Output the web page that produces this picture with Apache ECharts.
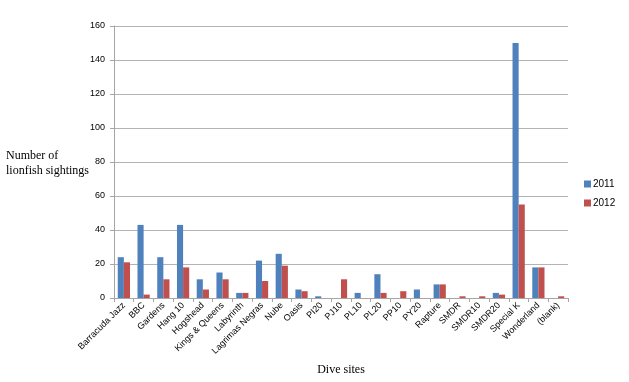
<!DOCTYPE html>
<html><head><meta charset="utf-8">
<script src="https://cdn.jsdelivr.net/npm/echarts@6/dist/echarts.min.js"></script>
<style>html,body{margin:0;padding:0;background:#fff}#c{width:629px;height:382px}</style>
</head><body><div id="c"></div>
<script>
const categories = ["Barracuda Jazz","BBC","Gardens","Hang 10","Hogshead","Kings & Queens","Labyrinth","Lagrimas Negras","Nube","Oasis","PI20","PJ10","PL10","PL20","PP10","PY20","Rapture","SMDR","SMDR10","SMDR20","Special K","Wonderland","(blank)"];
const values2011 = [24,43,24,43,11,15,3,22,26,5,1,0,3,14,0,5,8,0,0,3,150,18,0];
const values2012 = [21,2,11,18,5,11,3,10,19,4,0,11,0,3,4,0,8,1,1,2,55,18,1];
const yTicks = [0,20,40,60,80,100,120,140,160];

const chart = echarts.init(document.getElementById('c'));
chart.setOption({
  animation:false,
  grid:{left:114,right:61,top:26,bottom:84},
  legend:{orient:'vertical',left:579,top:174,itemWidth:7,itemHeight:7,itemGap:9,icon:'rect',
    textStyle:{fontFamily:'Arial, Liberation Sans',fontSize:10,color:'#000',padding:[0,0,0,-3]},data:['2011','2012']},
  xAxis:{type:'category',data:categories,
    name:'Dive sites',nameLocation:'middle',nameGap:66,
    nameTextStyle:{fontFamily:'Liberation Serif, Times New Roman',fontSize:12,color:'#000'},
    axisLine:{lineStyle:{color:'#a6a6a6'}},
    axisTick:{show:true,alignWithLabel:false,length:4,lineStyle:{color:'#a6a6a6'}},
    axisLabel:{rotate:45,interval:0,fontFamily:'Arial, Liberation Sans',fontSize:9,color:'#000',margin:6}},
  yAxis:{type:'value',min:0,max:160,interval:20,
    axisLine:{show:true,lineStyle:{color:'#a6a6a6'}},
    axisTick:{show:true,length:4,lineStyle:{color:'#a6a6a6'}},
    splitLine:{lineStyle:{color:'#b3b3b3'}},
    axisLabel:{fontFamily:'Arial, Liberation Sans',fontSize:9,color:'#000',margin:9,
      formatter:v=>yTicks.includes(v)?String(v):''}},
  graphic:[{type:'text',left:6,top:148,style:{text:'Number of\nlionfish sightings',
    font:'12px "Liberation Serif", "Times New Roman", serif',fill:'#000',lineHeight:15}}],
  series:[
    {name:'2011',type:'bar',data:values2011,barGap:'0%',barCategoryGap:'38%',
     itemStyle:{color:'#4F81BD'}},
    {name:'2012',type:'bar',data:values2012,barGap:'0%',barCategoryGap:'38%',
     itemStyle:{color:'#C0504D'}}
  ]
});
</script></body></html>
